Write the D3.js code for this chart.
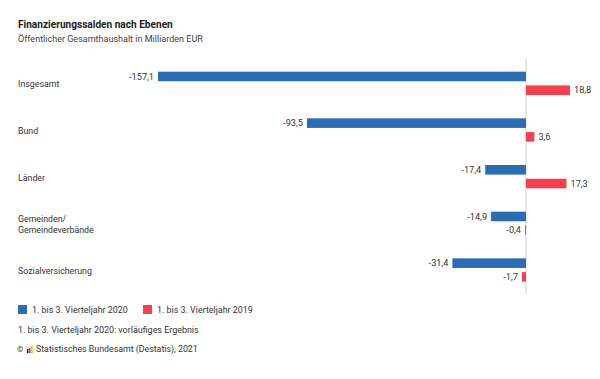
<!DOCTYPE html>
<html><head><meta charset="utf-8">
<script src="https://cdn.jsdelivr.net/npm/d3@7"></script>
<style>
html,body{margin:0;padding:0;background:#fff;}
svg{display:block;font-family:Roboto,"Open Sans",sans-serif;}
</style></head>
<body><svg id="c" width="600" height="379"></svg>
<script>
const categories = ["Insgesamt","Bund","Länder","Gemeinden/\nGemeindeverbände","Sozialversicherung"];
const seriesNames = ["1. bis 3. Vierteljahr 2020","1. bis 3. Vierteljahr 2019"];
const values2020 = [-157.1, -93.5, -17.4, -14.9, -31.4];
const values2019 = [18.8, 3.6, 17.3, -0.4, -1.7];
const colors = ["#2a6db3","#f5414f"];
const title = "Finanzierungssalden nach Ebenen";
const subtitle = "Öffentlicher Gesamthaushalt in Milliarden EUR";
const note = "1. bis 3. Vierteljahr 2020: vorläufiges Ergebnis";
const source = "Statistisches Bundesamt (Destatis), 2021";

const svg = d3.select("#c");
const fmt = v => d3.format(".1f")(v).replace(".", ",").replace("−","-");

// font size needed so that a sample string spans the width seen in the reference
function fitSize(sample, target, weight){
  const t = svg.append("text").attr("font-size",20).attr("font-weight",weight||"normal").text(sample);
  const w = t.node().getComputedTextLength();
  t.remove();
  return 20*target/w;
}
const fsTitle = fitSize(title,155,"bold");
const fsSub = fitSize(subtitle,185);
const fsCat = fitSize("Sozialversicherung",74);
const fsVal = fitSize("-157,1",25);
const fsLeg = fitSize(seriesNames[0],96);
const fsNote = fitSize(note,181);
const fsSrc = fitSize(source,162);

const x = d3.scaleLinear().domain([-157.1, 18.8]).range([158, 570]);
const y0 = d3.scaleBand().domain(categories).range([60, 293.35]).paddingInner(0.5).paddingOuter(0.25);
const y1 = d3.scaleBand().domain(seriesNames).range([0, y0.bandwidth()]).paddingInner(0.3);

svg.append("text").attr("x",18).attr("y",24).attr("dy","0.35em").attr("font-size",fsTitle).attr("font-weight","bold").attr("fill","#222").text(title);
svg.append("text").attr("x",18).attr("y",39).attr("dy","0.35em").attr("font-size",fsSub).attr("fill","#444").text(subtitle);

// zero line
svg.append("line").attr("x1",x(0)).attr("x2",x(0)).attr("y1",58).attr("y2",294)
  .attr("stroke","#d4d4d4").attr("stroke-width",1);

const data = categories.map((c,i)=>({cat:c, vals:[values2020[i], values2019[i]]}));

const g = svg.selectAll("g.grp").data(data).join("g").attr("class","grp")
  .attr("transform", d=>`translate(0,${y0(d.cat)})`);

g.selectAll("rect").data(d=>d.vals.map((v,j)=>({v, s:seriesNames[j], j})))
  .join("rect")
  .attr("x", d=>x(Math.min(0,d.v)))
  .attr("y", d=>y1(d.s))
  .attr("width", d=>Math.abs(x(d.v)-x(0)))
  .attr("height", y1.bandwidth())
  .attr("fill", d=>colors[d.j]);

g.selectAll("text.val").data(d=>d.vals.map((v,j)=>({v, s:seriesNames[j], j})))
  .join("text").attr("class","val")
  .attr("x", d=> d.v<0 ? x(d.v)-4 : x(d.v)+4)
  .attr("y", d=>y1(d.s)+y1.bandwidth()/2)
  .attr("dy","0.35em")
  .attr("text-anchor", d=> d.v<0 ? "end":"start")
  .attr("font-size",fsVal).attr("fill","#333")
  .text(d=>fmt(d.v));

// category labels
g.each(function(d){
  const lines = d.cat.split("\n");
  const t = d3.select(this).append("text").attr("x",18).attr("font-size",fsCat).attr("fill","#333");
  const cy = y0.bandwidth()/2 + 1;
  const lh = 11.5;
  lines.forEach((l,k)=>{
    t.append("tspan").attr("x",18).attr("y", cy + (k-(lines.length-1)/2)*lh).attr("dy","0.35em").text(l);
  });
});

// legend
const lx = [18,143];
seriesNames.forEach((s,i)=>{
  svg.append("rect").attr("x",lx[i]).attr("y",305).attr("width",9).attr("height",9).attr("fill",colors[i]);
  svg.append("text").attr("x",lx[i]+14).attr("y",309.5).attr("dy","0.35em").attr("font-size",fsLeg).attr("fill","#333").text(s);
});

svg.append("text").attr("x",18).attr("y",330).attr("dy","0.35em").attr("font-size",fsNote).attr("fill","#333").text(note);

// source line
svg.append("text").attr("x",17).attr("y",349).attr("dy","0.35em").attr("font-size",8).attr("fill","#333").text("©");
const lg = svg.append("g").attr("transform","translate(26,345)");
lg.append("rect").attr("x",0).attr("y",2).attr("width",7).attr("height",6).attr("fill","#fff").attr("stroke","#aaa").attr("stroke-width",0.5);
lg.append("rect").attr("x",1).attr("y",4).attr("width",1.5).attr("height",4).attr("fill","#222");
lg.append("rect").attr("x",3).attr("y",3).attr("width",1.5).attr("height",5).attr("fill","#e33");
lg.append("rect").attr("x",5).attr("y",1).attr("width",1.5).attr("height",7).attr("fill","#f5c400");
svg.append("text").attr("x",36).attr("y",349).attr("dy","0.35em").attr("font-size",fsSrc).attr("fill","#333").text(source);
</script></body></html>
